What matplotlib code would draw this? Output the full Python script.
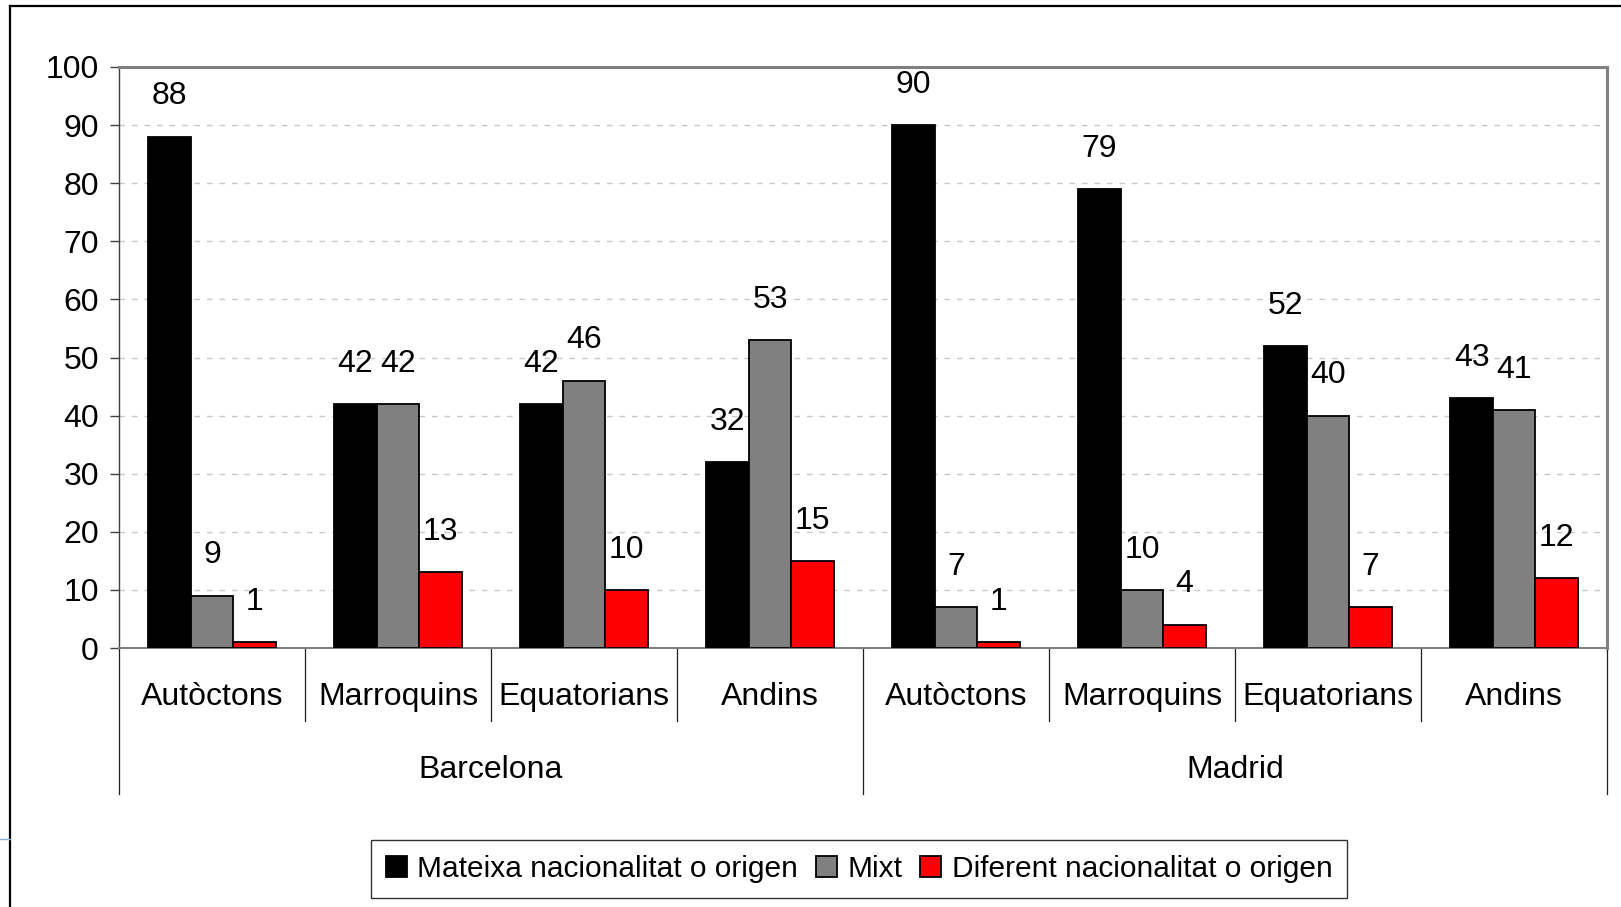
import matplotlib
matplotlib.use("Agg")
import matplotlib.pyplot as plt
from matplotlib.lines import Line2D
from matplotlib.patches import Patch
import matplotlib.transforms as mtransforms

plt.rcParams['font.family'] = ['Liberation Sans', 'DejaVu Sans']

cities = ["Barcelona", "Madrid"]
groups = ["Autòctons", "Marroquins", "Equatorians", "Andins"]
series = ["Mateixa nacionalitat o origen", "Mixt", "Diferent nacionalitat o origen"]
same = [88, 42, 42, 32, 90, 79, 52, 43]
mixed = [9, 42, 46, 53, 7, 10, 40, 41]
diff = [1, 13, 10, 15, 1, 4, 7, 12]
colors = ["#000000", "#808080", "#ff0000"]

W, H = 1621, 907
fig = plt.figure(figsize=(W / 100, H / 100), dpi=100)
x0, x1, ytop, ybot = 119, 1607, 67, 648
ax = fig.add_axes([x0 / W, 1 - ybot / H, (x1 - x0) / W, (ybot - ytop) / H])

fs = 23
n = len(same)
w = 0.228
for j, vals in enumerate([same, mixed, diff]):
    xs = [i + 0.5 + (j - 1) * w for i in range(n)]
    ax.bar(xs, vals, width=w, color=colors[j], edgecolor="black", linewidth=1.3, zorder=3)
    for x, v in zip(xs, vals):
        ax.annotate(str(v), (x, v), xytext=(0, 29), textcoords="offset points",
                    ha="center", va="center", fontsize=fs)

ax.set_xlim(0, n)
ax.set_ylim(0, 100)
ax.set_yticks(range(0, 101, 10))
ax.tick_params(axis="y", labelsize=fs, length=6.5, width=1, color="#404040", pad=8)
ax.set_xticks([])
ax.yaxis.grid(True, linestyle=(0, (4, 5)), color="#c8c8c8", linewidth=1)
ax.set_axisbelow(True)
for s in ["top", "right"]:
    ax.spines[s].set_color("#808080")
    ax.spines[s].set_linewidth(2.2)
ax.spines["bottom"].set_color("#808080")
ax.spines["bottom"].set_linewidth(1.5)
ax.spines["left"].set_color("#404040")
ax.spines["left"].set_linewidth(1)

# hierarchical category axis
ph = ybot - ytop
trans = mtransforms.blended_transform_factory(ax.transData, ax.transAxes)
y_cat = -73 / ph
y_grp = -146 / ph
for k in range(n + 1):
    yb = y_grp if k % 4 == 0 else y_cat
    ax.plot([k, k], [0, yb], transform=trans, color="#202020", lw=0.9, clip_on=False)
labels = groups * len(cities)
for i, lab in enumerate(labels):
    ax.text(i + 0.5, -49 / ph, lab, transform=trans, ha="center", va="center", fontsize=fs)
for c, city in enumerate(cities):
    ax.text(c * 4 + 2, -122 / ph, city, transform=trans, ha="center", va="center", fontsize=fs)

# outer frame
fig.add_artist(Line2D([10 / W, 1], [1 - 6 / H, 1 - 6 / H], color="black", lw=1.6))
fig.add_artist(Line2D([10 / W, 10 / W], [0, 1 - 6 / H], color="black", lw=1.6))
fig.add_artist(Line2D([0, 10 / W], [1 - 839 / H, 1 - 839 / H], color="#8fb0d8", lw=1))

handles = [Patch(facecolor=c, edgecolor="black", linewidth=1.3) for c in colors]
leg = fig.legend(handles, series, loc="center", bbox_to_anchor=(859 / W, 1 - 869 / H),
                 ncol=3, frameon=True, fancybox=False, handlelength=0.7,
                 handleheight=0.7, handletextpad=0.35, columnspacing=0.6,
                 borderpad=0.5, prop={"family": ["Liberation Sans"], "size": 21.5})
leg.get_frame().set_edgecolor("black")
leg.get_frame().set_linewidth(1)

fig.savefig("out.png", dpi=100)
